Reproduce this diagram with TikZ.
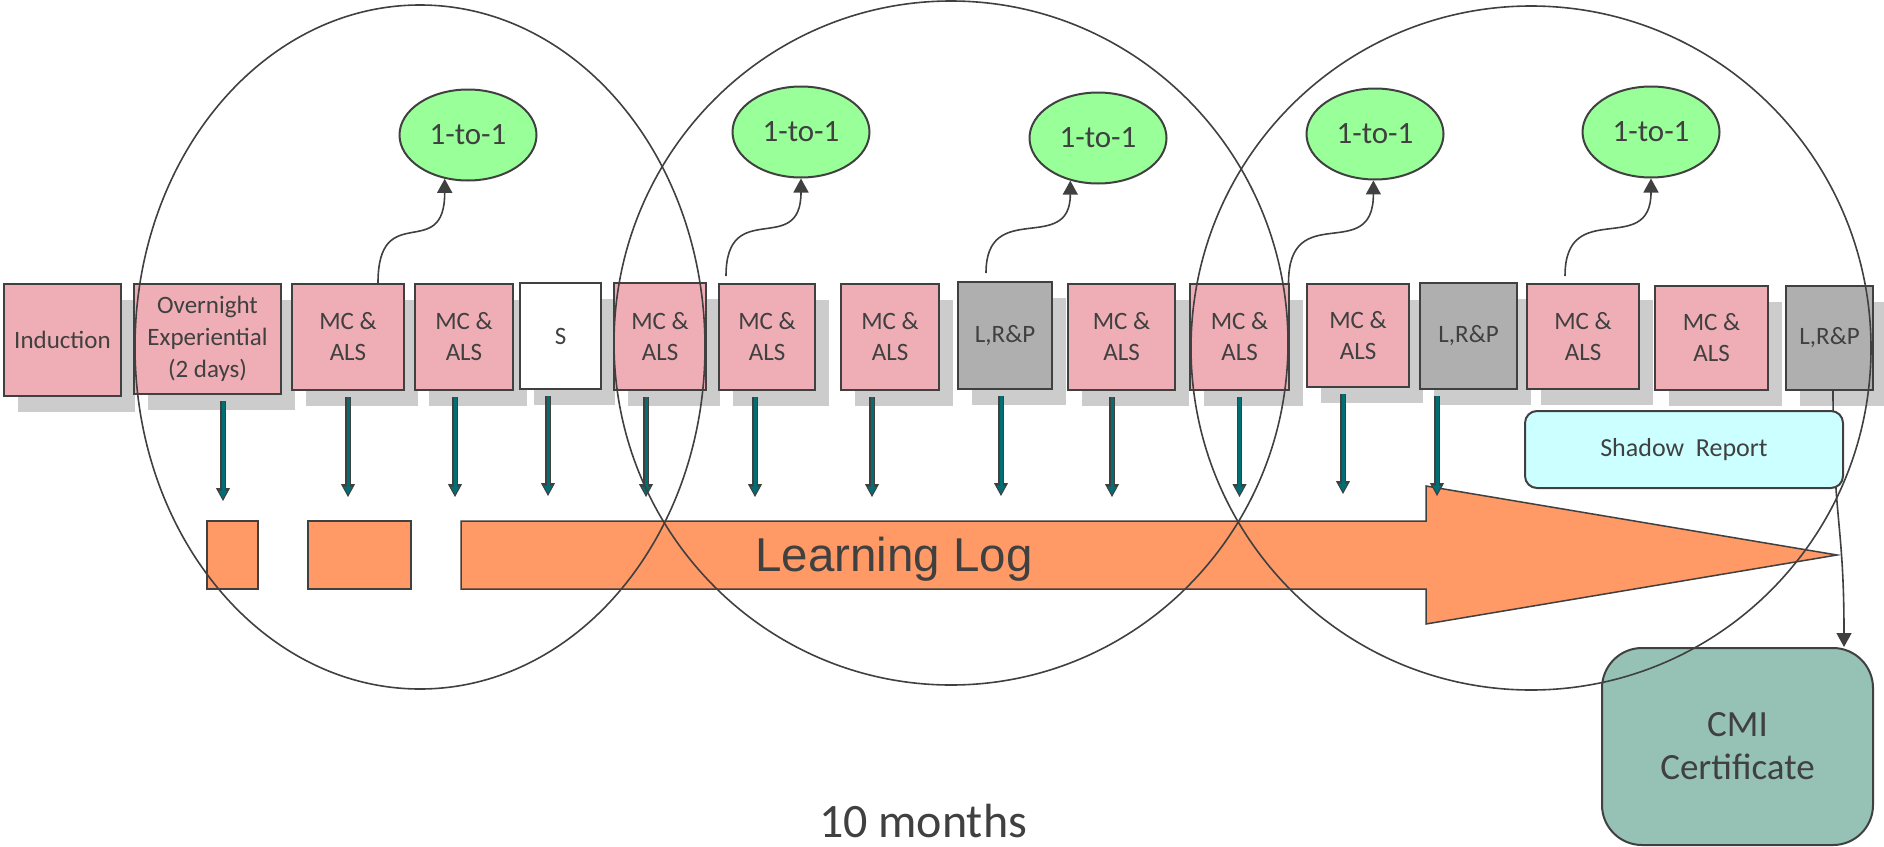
\documentclass[tikz,border=0pt]{standalone}
\usepackage{fontspec}
\setmainfont{Carlito}
\newfontfamily\logfont{Liberation Sans}
\usepackage{tikz}
\usetikzlibrary{arrows.meta,calc,shadows,shapes.geometric}

\definecolor{inkgray}{RGB}{64,64,64}
\definecolor{pinkbox}{RGB}{239,174,181}
\definecolor{greybox}{RGB}{175,175,175}
\definecolor{shadegray}{RGB}{204,204,204}
\definecolor{tealline}{RGB}{0,110,115}
\definecolor{logorange}{RGB}{255,153,102}
\definecolor{talkgreen}{RGB}{153,255,153}
\definecolor{reportcyan}{RGB}{204,255,255}
\definecolor{certgreen}{RGB}{150,194,182}

\begin{document}
\begin{tikzpicture}[x=1pt, y=-1pt,
    stage/.style={draw=inkgray, line width=2pt, text=inkgray, align=center, inner sep=0pt,
      font=\fontsize{25}{31}\selectfont,
      drop shadow={shadow xshift=14pt, shadow yshift=-16pt, fill=shadegray, opacity=1}},
    mcals/.style={stage, fill=pinkbox},
    lrp/.style={stage, fill=greybox},
    oneone/.style={ellipse, draw=inkgray, line width=2pt, fill=talkgreen, text=inkgray,
      inner sep=0pt, minimum width=137pt, minimum height=91pt, font=\fontsize{31}{36}\selectfont},
    talk/.style={draw=inkgray, line width=1.6pt, -{Triangle[width=15pt,length=14pt]}},
    tealarr/.style={draw=inkgray, line width=5.5pt, -{Triangle[width=14pt,length=13pt,line width=1pt]},
      postaction={draw=tealline, line width=3pt, -{Triangle[width=9pt,length=8pt,line width=0pt]}, shorten >=2.5pt}},
    logpart/.style={draw=inkgray, line width=1.5pt, fill=logorange},
    ring/.style={draw=inkgray, line width=1.6pt}]
  \useasboundingbox (0,0) rectangle (1884,846);

  % learning log
  \draw[logpart] (207,521) rectangle (258,589);
  \draw[logpart] (308,521) rectangle (411,589);
  \draw[logpart] (461,521) -- (1426,521) -- (1426,486) -- (1837,555) -- (1426,624) -- (1426,589) -- (461,589) -- cycle;
  \node[text=inkgray, font=\logfont\fontsize{47.5}{50}\selectfont] (logtext) at (894,559) {Learning Log};

  % sessions
  \node[mcals, minimum width=117pt, minimum height=112pt] (ind) at (62.5,340) {Induction};
  \node[mcals, minimum width=147pt, minimum height=110pt, font=\fontsize{25}{32}\selectfont] (ovn) at (207.5,339) {Overnight\\Experiential\\(2 days)};
  \node[mcals, minimum width=112pt, minimum height=106pt] (mc1) at (348,337) {MC \&\\ALS};
  \node[mcals, minimum width=98pt, minimum height=106pt] (mc2) at (464,337) {MC \&\\ALS};
  \node[stage, fill=white, minimum width=81pt, minimum height=106pt] (sbox) at (560.5,336) {S};
  \node[mcals, minimum width=92pt, minimum height=107pt] (mc3) at (660,336.5) {MC \&\\ALS};
  \node[mcals, minimum width=96pt, minimum height=106pt] (mc4) at (767,337) {MC \&\\ALS};
  \node[mcals, minimum width=98pt, minimum height=106pt] (mc5) at (890,337) {MC \&\\ALS};
  \node[lrp, minimum width=94pt, minimum height=107pt] (lrp1) at (1005,335.5) {L,R\&P};
  \node[mcals, minimum width=107pt, minimum height=106pt] (mc6) at (1121.5,337) {MC \&\\ALS};
  \node[mcals, minimum width=99pt, minimum height=106pt] (mc7) at (1239.5,337) {MC \&\\ALS};
  \node[mcals, minimum width=102pt, minimum height=103pt] (mc8) at (1358,335.5) {MC \&\\ALS};
  \node[lrp, minimum width=97pt, minimum height=106pt] (lrp2) at (1468.5,336) {L,R\&P};
  \node[mcals, minimum width=112pt, minimum height=105pt] (mc9) at (1583,336.5) {MC \&\\ALS};
  \node[mcals, minimum width=113pt, minimum height=104pt] (mc10) at (1711.5,338) {MC \&\\ALS};
  \node[lrp, minimum width=87pt, minimum height=104pt] (lrp3) at (1829.5,338) {L,R\&P};

  % certificate
  \node[draw=inkgray, line width=2pt, fill=certgreen, rounded corners=40pt, minimum width=271pt,
    minimum height=197pt, align=center, text=inkgray, font=\fontsize{37}{43}\selectfont] (cmi) at (1737.5,746.5) {CMI\\Certificate};
  \draw[talk] ([xshift=3.5pt]lrp3.south) .. controls +(0,130) and +(0,-125) .. ($(cmi.north east)+(-30,0)$);
  \node[draw=inkgray, line width=2pt, fill=reportcyan, rounded corners=12pt, minimum width=318pt,
    minimum height=77pt, text=inkgray, font=\fontsize{26}{30}\selectfont] (shrep) at (1684,449.5) {Shadow\ \ Report};

  % into the log
  \foreach \b/\dx in {ovn/15.5, mc1/0, mc2/-9, sbox/-12.5, mc3/-14, mc4/-12, mc5/-18, lrp1/-4, mc6/-9.5, mc7/0, mc8/-15, lrp2/-31.5}
    \draw[tealarr] ($(\b.south)+(\dx,6)$) -- ($(\b.south)+(\dx,106)$);

  % 1-to-1 meetings
  \node[oneone] (oo1) at (468,135) {1-to-1};
  \node[oneone] (oo2) at (801,132) {1-to-1};
  \node[oneone] (oo3) at (1098,138) {1-to-1};
  \node[oneone] (oo4) at (1375,134) {1-to-1};
  \node[oneone] (oo5) at (1651,132) {1-to-1};
  \draw[talk] ([xshift=30pt]mc1.north) .. controls +(0,-85) and +(0,85) .. (oo1.242);
  \draw[talk] ([xshift=-41pt,yshift=7pt]mc4.north) .. controls +(0,-80) and +(0,80) .. (oo2.south);
  \draw[talk] ([xshift=-19pt,yshift=8pt]lrp1.north) .. controls +(0,-75) and +(0,75) .. (oo3.237);
  \draw[talk] ([xshift=49pt]mc7.north) .. controls +(0,-85) and +(0,85) .. (oo4.268);
  \draw[talk] ([xshift=-18pt,yshift=7pt]mc9.north) .. controls +(0,-80) and +(0,80) .. (oo5.south);

  % phases
  \draw[ring] (420,347) ellipse [x radius=285, y radius=342];
  \draw[ring] (951,343) ellipse [x radius=337, y radius=342];
  \draw[ring] (1531,348) ellipse [x radius=340, y radius=342];

  \node[text=inkgray, font=\fontsize{48}{52}\selectfont] (months) at (923,821) {10 months};
\end{tikzpicture}
\end{document}
